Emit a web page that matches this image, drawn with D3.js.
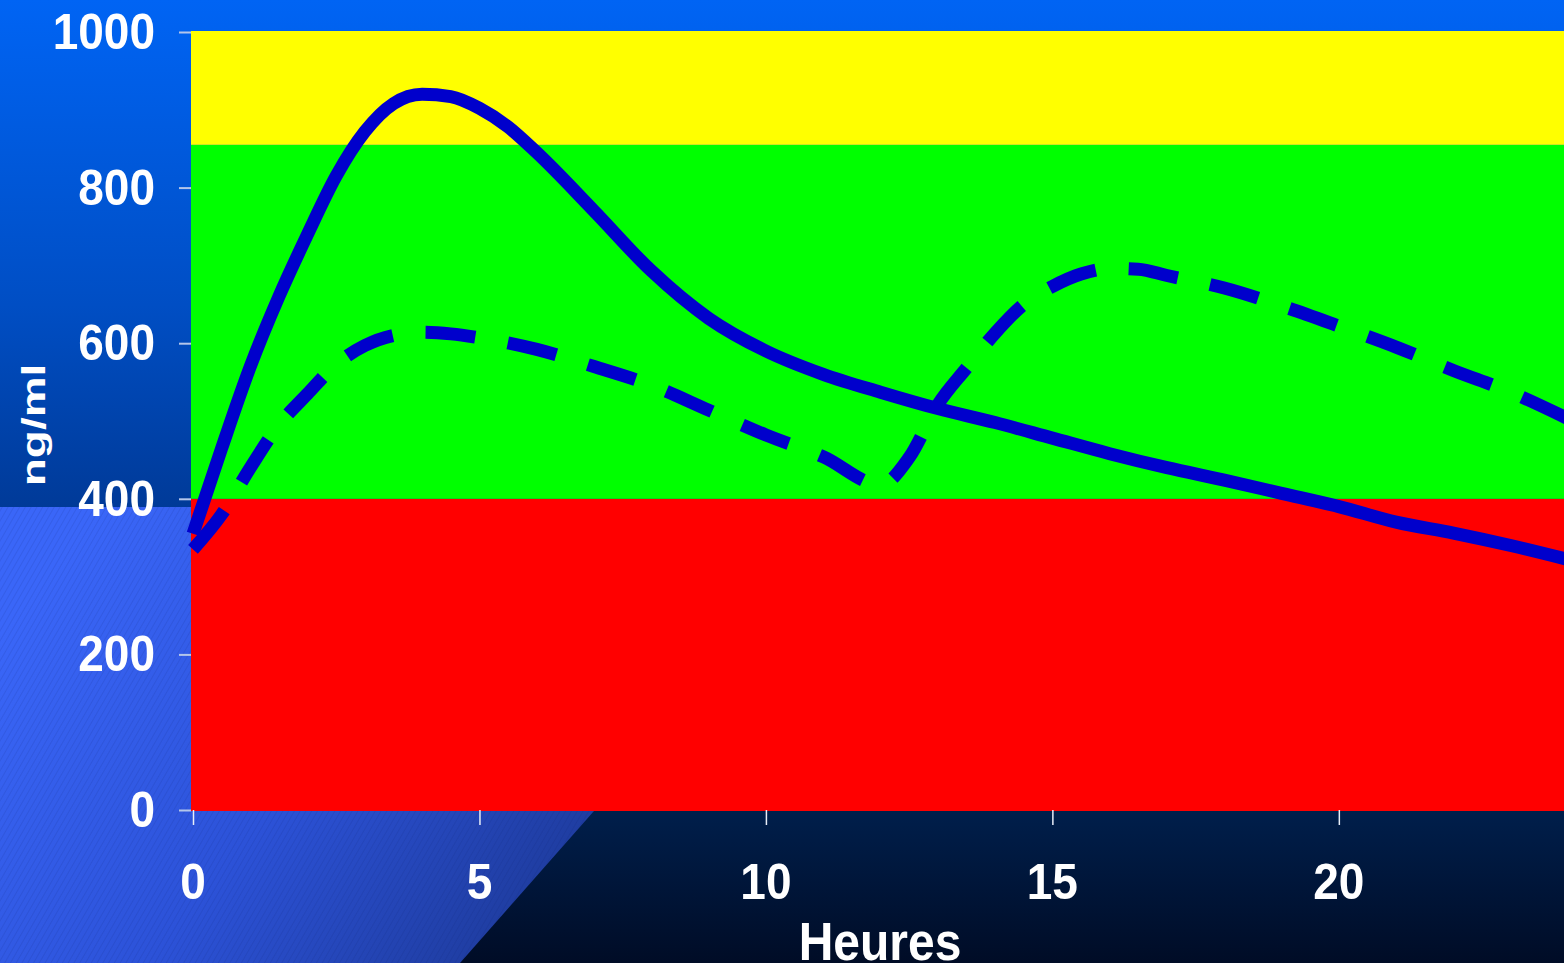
<!DOCTYPE html>
<html>
<head>
<meta charset="utf-8">
<script src="https://cdn.jsdelivr.net/npm/d3@7"></script>
<style>
  html, body { margin: 0; padding: 0; overflow: hidden; background: #0050c8; }
  svg { display: block; }
</style>
</head>
<body>
<svg id="svg"></svg>
<script>
////////////////////////////////////////////////////////////////////////
// Data

// solid curve: a single dose
let solidHours  = [0, 0.5, 1, 1.5, 2, 2.5, 3, 3.5, 4, 4.5, 5, 5.5, 6, 7, 8, 9, 10,
                   11, 12, 13, 14, 15, 16, 17, 18, 19, 20, 21, 22, 23, 24];
let solidValues = [355, 465, 570, 660, 740, 815, 872, 908, 920, 917, 902, 878, 845, 770, 693, 632, 590,
                   560, 537, 516, 498, 478, 458, 440, 424, 407, 390, 370, 356, 340, 322];

// dashed curve: two doses, the second at 12 h
let dashedHours  = [0, 0.5, 1, 1.5, 2, 2.5, 3, 3.5, 4, 4.5, 5, 6, 7, 8, 9, 10, 11, 12,
                    12.5, 13, 13.5, 14, 14.5, 15, 15.5, 16, 16.5, 17, 18, 19, 20, 21, 22, 23, 24];
let dashedValues = [335, 380, 440, 495, 535, 573, 597, 610, 614, 612, 607, 592, 570, 546, 514, 482, 454, 418,
                    453, 521, 568, 613, 650, 673, 689, 696, 695, 687, 671, 648, 622, 595, 565, 537, 503];

// background zones (ng/ml)
let zoneLimits = [0, 400, 855, 1000];
let zoneColors = ["#ff0000", "#00ff00", "#ffff00"];

let yTicks = [0, 200, 400, 600, 800, 1000];
let xTicks = [0, 5, 10, 15, 20];


////////////////////////////////////////////////////////////////////////
// Setup

let winWidth = 1564;
let winHeight = 963;

let svg = d3.select("#svg")
            .attr("width", winWidth)
            .attr("height", winHeight);

let xScale = d3.scaleLinear().domain([0, 24]).range([193, 1568]);
let yScale = d3.scaleLinear().domain([0, 1000]).range([810, 32]);

let plotLeft = 191;
let lineColor = "#0000cc";
let fontFamily = "'Liberation Sans', Arial, Helvetica, sans-serif";


////////////////////////////////////////////////////////////////////////
// Slide background

let defs = svg.append("defs");

let topGrad = defs.append("linearGradient")
                  .attr("id", "topGrad")
                  .attr("gradientUnits", "userSpaceOnUse")
                  .attr("x1", 0).attr("y1", 0).attr("x2", 0).attr("y2", 508);
topGrad.append("stop").attr("offset", 0).attr("stop-color", "#0064f4");
topGrad.append("stop").attr("offset", 0.6).attr("stop-color", "#004ec4");
topGrad.append("stop").attr("offset", 1).attr("stop-color", "#003a98");

let darkGrad = defs.append("linearGradient")
                   .attr("id", "darkGrad")
                   .attr("gradientUnits", "userSpaceOnUse")
                   .attr("x1", 0).attr("y1", 800).attr("x2", 0).attr("y2", 963);
darkGrad.append("stop").attr("offset", 0).attr("stop-color", "#00204e");
darkGrad.append("stop").attr("offset", 1).attr("stop-color", "#000c26");

let lightGrad = defs.append("linearGradient")
                    .attr("id", "lightGrad")
                    .attr("gradientUnits", "userSpaceOnUse")
                    .attr("x1", 60).attr("y1", 560).attr("x2", 560).attr("y2", 960);
lightGrad.append("stop").attr("offset", 0).attr("stop-color", "#3a66f8");
lightGrad.append("stop").attr("offset", 0.5).attr("stop-color", "#2c52d8");
lightGrad.append("stop").attr("offset", 1).attr("stop-color", "#1c3894");

// faint hatching over the light blue corner
let hatch = defs.append("pattern")
                .attr("id", "hatch")
                .attr("patternUnits", "userSpaceOnUse")
                .attr("width", 5).attr("height", 5)
                .attr("patternTransform", "rotate(30)");
hatch.append("line")
     .attr("x1", 0).attr("y1", 0).attr("x2", 0).attr("y2", 5)
     .attr("stroke", "#0a1a60").attr("stroke-width", 1).attr("stroke-opacity", 0.22);

svg.append("rect")
   .attr("x", 0).attr("y", 0).attr("width", winWidth).attr("height", 508)
   .attr("fill", "url(#topGrad)");

svg.append("rect")
   .attr("x", 0).attr("y", 507).attr("width", winWidth).attr("height", winHeight - 507)
   .attr("fill", "url(#darkGrad)");

let cornerPts = [[0, 507], [862, 507], [460, 963], [0, 963]];
svg.append("polygon")
   .attr("points", cornerPts.map(p => p.join(",")).join(" "))
   .attr("fill", "url(#lightGrad)");
svg.append("polygon")
   .attr("points", cornerPts.map(p => p.join(",")).join(" "))
   .attr("fill", "url(#hatch)");


////////////////////////////////////////////////////////////////////////
// Plot zones

let zones = zoneColors.map((c, i) => ({ lo: zoneLimits[i], hi: zoneLimits[i+1], color: c }));

svg.append("g")
   .selectAll("rect")
   .data(zones)
   .enter()
   .append("rect")
   .attr("x", plotLeft)
   .attr("width", winWidth - plotLeft + 10)
   .attr("y", d => yScale(d.hi) - (d.hi === 1000 ? 1 : 0))
   .attr("height", d => yScale(d.lo) - yScale(d.hi) + (d.hi === 1000 ? 1 : 0) + (d.lo === 0 ? 1 : 0))
   .attr("fill", d => d.color);


////////////////////////////////////////////////////////////////////////
// Axes (tick marks from d3 axes, labels drawn separately)

let yAxis = d3.axisLeft(yScale).tickValues(yTicks).tickSize(12).tickFormat("");
let yAxisG = svg.append("g")
                .attr("transform", "translate(" + plotLeft + ",0)")
                .call(yAxis);
yAxisG.select(".domain").remove();
yAxisG.selectAll(".tick line").attr("stroke", "#b4c6ea").attr("stroke-width", 2);

let xAxis = d3.axisBottom(xScale).tickValues(xTicks).tickSize(15).tickFormat("");
let xAxisG = svg.append("g")
                .attr("transform", "translate(0," + yScale(0) + ")")
                .call(xAxis);
xAxisG.select(".domain").remove();
xAxisG.selectAll(".tick line").attr("stroke", "#e8eef8").attr("stroke-width", 1.5);

svg.append("g")
   .selectAll("text")
   .data(yTicks)
   .enter()
   .append("text")
   .attr("transform", d => "translate(155," + (yScale(d) + 17) + ") scale(1,1.1)")
   .attr("text-anchor", "end")
   .attr("font-family", fontFamily)
   .attr("font-weight", "bold")
   .attr("font-size", 46)
   .attr("fill", "#ffffff")
   .text(d => d);

svg.append("g")
   .selectAll("text")
   .data(xTicks)
   .enter()
   .append("text")
   .attr("transform", d => "translate(" + xScale(d) + ",899) scale(1,1.1)")
   .attr("text-anchor", "middle")
   .attr("font-family", fontFamily)
   .attr("font-weight", "bold")
   .attr("font-size", 46)
   .attr("fill", "#ffffff")
   .text(d => d);

svg.append("text")
   .attr("transform", "translate(880,960) scale(1,1.1)")
   .attr("text-anchor", "middle")
   .attr("font-family", fontFamily)
   .attr("font-weight", "bold")
   .attr("font-size", 48)
   .attr("fill", "#ffffff")
   .text("Heures");

svg.append("text")
   .attr("transform", "translate(45,425) rotate(-90) scale(1.35,1)")
   .attr("text-anchor", "middle")
   .attr("font-family", fontFamily)
   .attr("font-weight", "bold")
   .attr("font-size", 34)
   .attr("fill", "#ffffff")
   .text("ng/ml");


////////////////////////////////////////////////////////////////////////
// Curves

let line = d3.line()
             .x(d => xScale(d[0]))
             .y(d => yScale(d[1]))
             .curve(d3.curveMonotoneX);

let solidData = d3.zip(solidHours, solidValues);
let dashedData = d3.zip(dashedHours, dashedValues);

svg.append("path")
   .datum(dashedData)
   .attr("d", line)
   .attr("fill", "none")
   .attr("stroke", lineColor)
   .attr("stroke-width", 13)
   .attr("stroke-dasharray", "50,33")
   .attr("stroke-linecap", "butt");

svg.append("path")
   .datum(solidData)
   .attr("d", line)
   .attr("fill", "none")
   .attr("stroke", lineColor)
   .attr("stroke-width", 13)
   .attr("stroke-linejoin", "round");
</script>
</body>
</html>
